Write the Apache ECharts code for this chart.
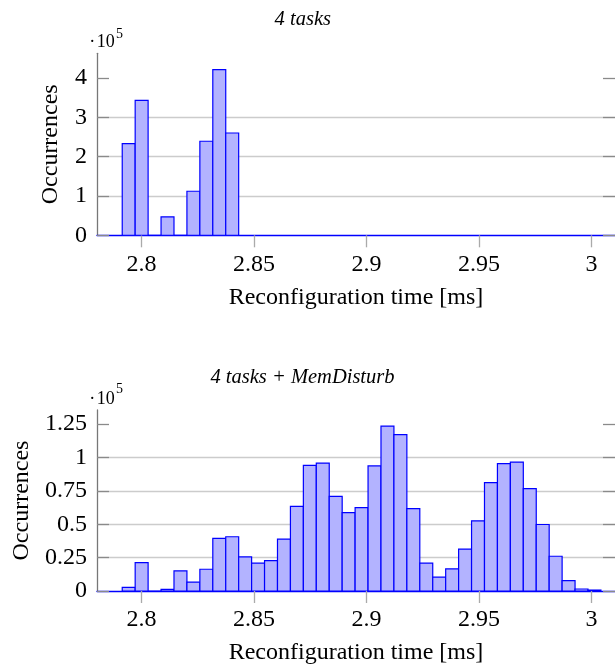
<!DOCTYPE html>
<html><head><meta charset="utf-8">
<script src="https://cdn.jsdelivr.net/npm/echarts@6/dist/echarts.min.js"></script>
<style>html,body{margin:0;padding:0;background:#fff}#c{width:615px;height:666px}</style>
</head><body><div id="c"></div>
<script>
// ---- data (occurrences in units of 10^5) ----
const binStart = 2.79142;      // first histogram bin left edge [ms]
const binWidth = 0.005752;     // histogram bin width [ms]
const countsTasks = [2.33, 3.43, 0, 0.47, 0, 1.12, 2.39, 4.21, 2.60];
const countsMem = [0.027, 0.213, 0, 0.012, 0.151, 0.067, 0.163, 0.394, 0.406, 0.255,
                   0.208, 0.228, 0.389, 0.634, 0.941, 0.958, 0.708, 0.587, 0.624, 0.936,
                   1.235, 1.171, 0.616, 0.208, 0.104, 0.166, 0.314, 0.525, 0.812, 0.953,
                   0.965, 0.767, 0.498, 0.260, 0.077, 0.015, 0.007];
const xTicks = [2.8, 2.85, 2.9, 2.95, 3];
const yTicksTop = [0, 1, 2, 3, 4];
const yTicksBottom = [0, 0.25, 0.5, 0.75, 1, 1.25];
const titles = ['4 tasks', '4 tasks + MemDisturb'];
const xName = 'Reconfiguration time [ms]';
const yName = 'Occurrences';
const scaleMark = ['·', '10', '5'];

const FONT = 'Liberation Serif';
const toBins = arr => arr.map((v, i) => [binStart + i * binWidth, binStart + (i + 1) * binWidth, v]);

function renderBar(params, api) {
  const p0 = api.coord([api.value(0), api.value(2)]);
  const p1 = api.coord([api.value(1), 0]);
  return {
    type: 'rect',
    shape: { x: p0[0], y: p0[1], width: p1[0] - p0[0], height: p1[1] - p0[1] },
    style: { fill: '#b3b3ff', stroke: '#0000ff', lineWidth: 1.2 }
  };
}

const grids = [
  { left: 97, top: 53.3, width: 520, height: 182 },
  { left: 97, top: 410, width: 520, height: 182.3 }
];

function xAxisFor(gi) {
  return {
    type: 'value', gridIndex: gi, min: 2.7802, max: 3.0105,
    name: xName, nameLocation: 'middle', nameGap: 50,
    nameTextStyle: { fontFamily: FONT, fontSize: 24, color: '#000' },
    axisLine: { show: true, onZero: false, lineStyle: { color: '#0000ff', width: 1.3 } },
    axisTick: { show: true, inside: false, length: 12, customValues: xTicks, lineStyle: { color: '#aaaaaa', width: 1.3 } },
    axisLabel: { customValues: xTicks, margin: 17, fontFamily: FONT, fontSize: 24, color: '#000' },
    splitLine: { show: false }
  };
}
function yAxisFor(gi, max, interval, ticks, nameGap) {
  return {
    type: 'value', gridIndex: gi, min: 0, max: max, interval: interval,
    name: yName, nameLocation: 'middle', nameGap: nameGap,
    nameTextStyle: { fontFamily: FONT, fontSize: 24, color: '#000' },
    axisLine: { show: true, onZero: false, lineStyle: { color: '#777777', width: 1.3 } },
    axisTick: { show: true, inside: true, length: 12, customValues: ticks, lineStyle: { color: '#8a8a8a', width: 1.3 } },
    axisLabel: { customValues: ticks, margin: 10, fontFamily: FONT, fontSize: 24, color: '#000' },
    splitLine: { show: true, showMinLine: false, showMaxLine: false, lineStyle: { color: '#cccccc', width: 1.3 } }
  };
}
function rightAxisFor(gi, max, ticks) {
  return {
    type: 'value', gridIndex: gi, min: 0, max: max, position: 'right',
    axisLine: { show: false },
    axisTick: { show: true, inside: true, length: 12, customValues: ticks, lineStyle: { color: '#8a8a8a', width: 1.3 } },
    axisLabel: { show: false },
    splitLine: { show: false }
  };
}

function textEl(text, x, y, size, italic, align) {
  return { type: 'text', x: x, y: y, style: { text: text, fontFamily: FONT, fontSize: size,
    fontStyle: italic ? 'italic' : 'normal', fill: '#000', align: align || 'left', verticalAlign: 'middle' } };
}

const option = {
  animation: false,
  backgroundColor: '#fff',
  grid: grids,
  xAxis: [xAxisFor(0), xAxisFor(1)],
  yAxis: [
    yAxisFor(0, 4.625, 1, yTicksTop, 34),
    yAxisFor(1, 1.355, 0.25, yTicksBottom, 62),
    rightAxisFor(0, 4.625, yTicksTop),
    rightAxisFor(1, 1.355, yTicksBottom)
  ],
  series: [
    { type: 'custom', xAxisIndex: 0, yAxisIndex: 0, renderItem: renderBar, data: toBins(countsTasks), encode: { x: [0, 1], y: 2 }, clip: true },
    { type: 'custom', xAxisIndex: 1, yAxisIndex: 1, renderItem: renderBar, data: toBins(countsMem), encode: { x: [0, 1], y: 2 }, clip: true }
  ],
  graphic: [
    textEl(titles[0], 302.8, 19.7, 20.5, true, 'center'),
    textEl(titles[1], 302.5, 378, 20.5, true, 'center'),
    textEl(scaleMark[0], 92.3, 42.5, 18, false, 'center'),
    textEl(scaleMark[1], 96.7, 42.5, 18, false),
    textEl(scaleMark[2], 116, 33.9, 14, false),
    textEl(scaleMark[0], 92.3, 399.2, 18, false, 'center'),
    textEl(scaleMark[1], 96.7, 399.2, 18, false),
    textEl(scaleMark[2], 116, 388.9, 14, false)
  ]
};

const chart = echarts.init(document.getElementById('c'), null, { renderer: 'canvas' });
chart.setOption(option);
</script>
</body></html>
